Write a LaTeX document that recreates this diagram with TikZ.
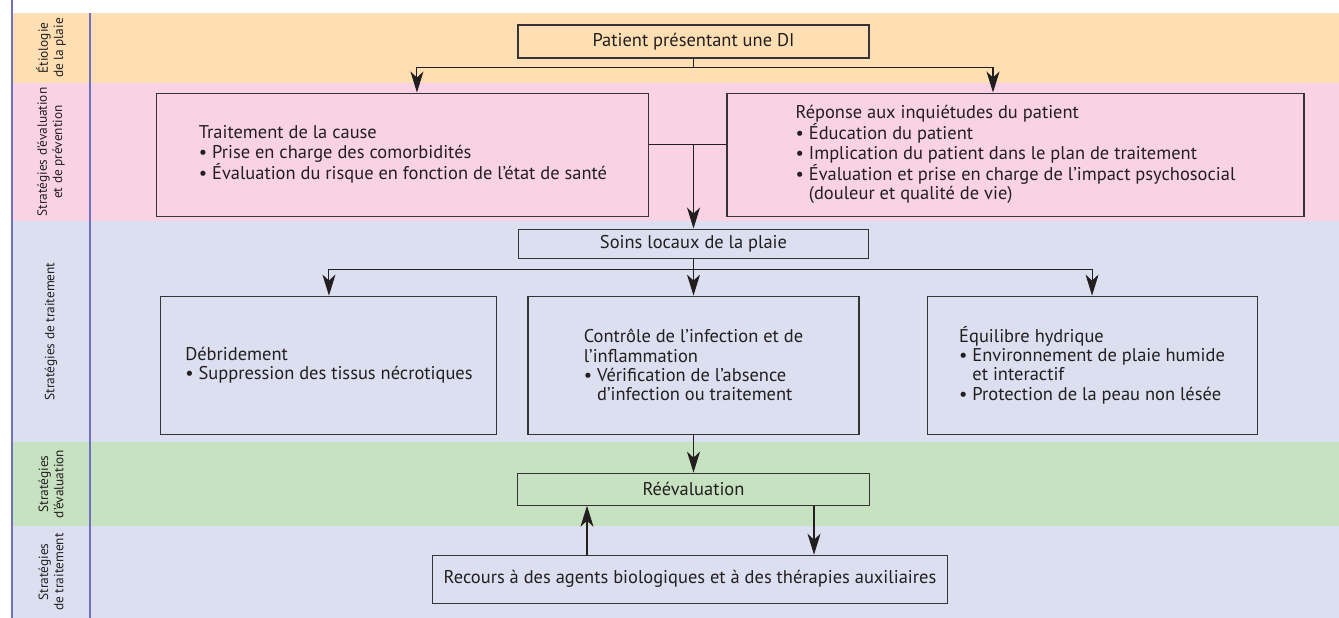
\documentclass[tikz,border=0pt]{standalone}
\usepackage{fontspec}
\setmainfont{PT Sans}
\usepackage{tikz}
\usetikzlibrary{positioning,arrows.meta}
\definecolor{bandorange}{RGB}{253,223,179}
\definecolor{bandpink}{RGB}{249,211,228}
\definecolor{bandblue}{RGB}{220,223,240}
\definecolor{bandgreen}{RGB}{199,226,192}
\definecolor{rulepurple}{RGB}{112,112,192}
\definecolor{boxline}{RGB}{55,52,53}
\definecolor{inktext}{RGB}{35,31,32}

\begin{document}
\begin{tikzpicture}[box/.style={draw=boxline, line width=0.6pt, inner sep=0pt, align=left, text=inktext, font=\fontsize{10.5}{11}\selectfont},
    arr/.style={draw=inktext, line width=0.6pt, -{Stealth[length=4.2mm,width=2.6mm,inset=1.2mm]}},
    link/.style={draw=inktext, line width=0.6pt},
    lab/.style={rotate=90, align=center, text=inktext, font=\fontsize{7.6}{8.6}\selectfont}]
    \useasboundingbox (0,0) rectangle (26.78,-12.36);
    \fill[bandorange] (0.24,-0.26) rectangle (26.78,-1.66);
    \fill[bandpink] (0.24,-1.66) rectangle (26.78,-4.42);
    \fill[bandblue] (0.24,-4.42) rectangle (26.78,-8.84);
    \fill[bandgreen] (0.24,-8.84) rectangle (26.78,-10.52);
    \fill[bandblue] (0.24,-10.52) rectangle (26.78,-12.36);
    \draw[rulepurple, line width=0.8pt] (0.24,0) -- (0.24,-12.36);
    \draw[rulepurple, line width=0.8pt] (1.8,-0.26) -- (1.8,-12.36);

    \node (L1)[lab] at (1.02,-0.96) {Étiologie\\de la plaie};
    \node (L2)[lab] at (1.02,-3.04) {Stratégies d’évaluation\\et de prévention};
    \node (L3)[lab] at (1.02,-6.63) {Stratégies de traitement};
    \node (L4)[lab] at (1.02,-9.68) {Stratégies\\d’évaluation};
    \node (L5)[lab] at (1.02,-11.44) {Stratégies\\de traitement};

    \node (patient)[box, minimum width=7.02cm, minimum height=0.66cm] at (13.87,-0.83) {Patient présentant une DI};
    \node (concerns)[box, minimum width=11.54cm, minimum height=2.46cm, below=0.68cm of patient, xshift=6.44cm] {Réponse aux inquiétudes du patient\\• Éducation du patient\\• Implication du patient dans le plan de traitement\\• Évaluation et prise en charge de l’impact psychosocial\\\hphantom{• }(douleur et qualité de vie)};
    \node (cause)[box, minimum width=9.84cm, minimum height=2.46cm, left=1.54cm of concerns] {Traitement de la cause\\• Prise en charge des comorbidités\\• Évaluation du risque en fonction de l’état de santé};
    \node (soins)[box, minimum width=7.0cm, minimum height=0.58cm, below=3.4cm of patient] {Soins locaux de la plaie};
    \node (infect)[box, minimum width=6.62cm, minimum height=2.76cm, below=0.74cm of soins] {Contrôle de l’infection et de\\l’inflammation\\• Vérification de l’absence\\\hphantom{• }d’infection ou traitement};
    \node (debride)[box, minimum width=6.72cm, minimum height=2.76cm, left=0.6cm of infect] {Débridement\\• Suppression des tissus nécrotiques};
    \node (hydric)[box, minimum width=6.6cm, minimum height=2.76cm, right=1.34cm of infect] {Équilibre hydrique\\• Environnement de plaie humide\\\hphantom{• }et interactif\\• Protection de la peau non lésée};
    \node (reeval)[box, minimum width=7.04cm, minimum height=0.64cm, below=0.76cm of infect] {Réévaluation};
    \node (recours)[box, minimum width=10.3cm, minimum height=0.96cm, below=0.98cm of reeval, xshift=-0.07cm] {Recours à des agents biologiques et à des thérapies auxiliaires};

    \coordinate[below=0.18cm of patient] (fork1);
    \draw[link] (patient) -- (fork1);
    \draw[arr] (fork1) -| ([xshift=0.28cm]cause.north);
    \draw[arr] (fork1) -| ([xshift=-0.45cm]concerns.north);
    \coordinate[above=0.21cm of cause.east] (tie);
    \draw[link] (tie) -- (tie -| concerns.west);
    \draw[arr] (tie -| soins.north) -- (soins.north);
    \coordinate[below=0.22cm of soins] (fork2);
    \draw[link] (soins) -- (fork2);
    \draw[arr] (fork2) -| (debride.north);
    \draw[arr] (fork2) -| (hydric.north);
    \draw[arr] (fork2) -- (infect.north);
    \draw[arr] (infect) -- (reeval);
    \coordinate[left=2.06cm of recours.north] (up1);
    \coordinate[right=2.48cm of recours.north] (dn1);
    \draw[arr] (up1) -- (up1 |- reeval.south);
    \draw[arr] (dn1 |- reeval.south) -- (dn1);
  \end{tikzpicture}
\end{document}
